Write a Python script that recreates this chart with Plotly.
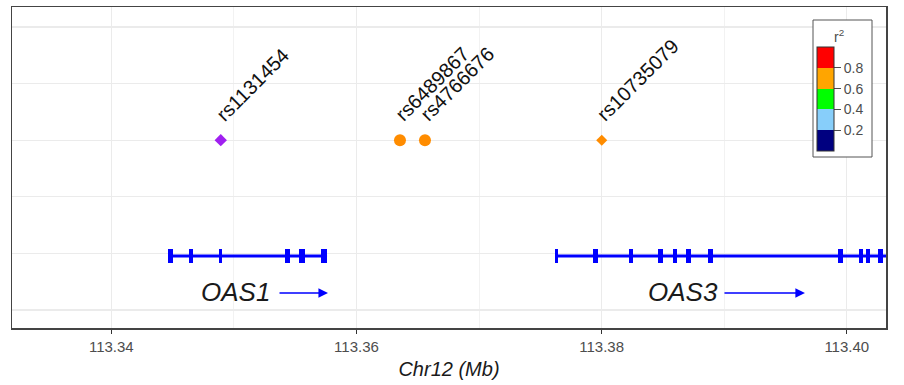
import plotly.graph_objects as go

# ---------------- data ----------------
snp_names = ["rs1131454", "rs6489867", "rs4766676", "rs10735079"]
snp_pos = [113.34893, 113.36355, 113.36559, 113.38001]   # Mb
snp_track = [3, 3, 3, 3]
snp_colors = ["#A020F0", "#FF8C00", "#FF8C00", "#FF8C00"]
snp_symbols = ["diamond", "circle", "circle", "diamond"]
snp_sizes = [9.5, 12, 12, 8.5]

gene_names = ["OAS1", "OAS3"]
gene_start = [113.34463, 113.3762]
gene_end = [113.3576, 113.4112]
gene_track = [0.954, 0.954]
gene_label_pos = [113.35017, 113.3866]
gene_arrow_start = [113.3536, 113.3899]
gene_arrow_end = [113.35768, 113.39659]

oas1_exon_start = [113.34463, 113.34634, 113.34879, 113.35417, 113.35532, 113.35711]
oas1_exon_end = [113.34504, 113.34667, 113.34903, 113.35458, 113.35581, 113.3576]
oas3_exon_start = [113.3762, 113.3793, 113.38224, 113.3846, 113.38583, 113.38689,
                   113.38868, 113.39929, 113.401, 113.40157, 113.40255]
oas3_exon_end = [113.37647, 113.37971, 113.38256, 113.38501, 113.38615, 113.3873,
                 113.38909, 113.3997, 113.40133, 113.4019, 113.40296]

r2_breaks = [0, 0.2, 0.4, 0.6, 0.8, 1.0]
r2_colors = ["#000080", "#87CEFA", "#00FF00", "#FFA500", "#FF0000"]
r2_ticks = [0.2, 0.4, 0.6, 0.8]

x_ticks = [113.34, 113.36, 113.38, 113.40]
x_ticktext = ["113.34", "113.36", "113.38", "113.40"]

FONT = "Liberation Sans, Arial, Helvetica, sans-serif"
GENE_BLUE = "#0000FF"

# plot-area geometry (pixels)
W, H = 904, 385
ML, MR, MT, MB = 12, 18, 7, 57
PW, PH = W - ML - MR, H - MT - MB


def px_to_paper_x(px):
    return (px - ML) / PW


def py_to_paper_y(py):
    return (H - MB - py) / PH


fig = go.Figure()

# gene backbone lines
for gs, ge, gy in zip(gene_start, gene_end, gene_track):
    fig.add_trace(go.Scatter(x=[gs, ge], y=[gy, gy], mode="lines",
                             line=dict(color=GENE_BLUE, width=3),
                             hoverinfo="skip", showlegend=False))

# exons as horizontal bars
for starts, ends, gy in [(oas1_exon_start, oas1_exon_end, gene_track[0]),
                         (oas3_exon_start, oas3_exon_end, gene_track[1])]:
    fig.add_trace(go.Bar(
        orientation="h",
        base=starts,
        x=[e - s for s, e in zip(starts, ends)],
        y=[gy] * len(starts),
        width=0.23,
        marker=dict(color=GENE_BLUE, line=dict(width=0)),
        showlegend=False, hoverinfo="skip"))

# SNP points
fig.add_trace(go.Scatter(
    x=snp_pos, y=snp_track, mode="markers",
    marker=dict(color=snp_colors, symbol=snp_symbols, size=snp_sizes,
                line=dict(width=0), opacity=1),
    showlegend=False, hoverinfo="skip"))

# colour key (r2) via a colorbar on an invisible trace
cs = []
for i, c in enumerate(r2_colors):
    cs.append([r2_breaks[i], c])
    cs.append([r2_breaks[i + 1], c])
fig.add_trace(go.Scatter(
    x=[None], y=[None], mode="markers",
    marker=dict(color=[0.5], colorscale=cs, cmin=0, cmax=1, showscale=True,
                colorbar=dict(
                    tickvals=r2_ticks, ticktext=[f"{t:.1f}" for t in r2_ticks],
                    ticks="outside", ticklen=7, tickwidth=1, tickcolor="#4d4d4d",
                    tickfont=dict(size=14, color="#4d4d4d", family=FONT),
                    thicknessmode="pixels", thickness=17,
                    lenmode="pixels", len=104,
                    xref="paper", x=px_to_paper_x(817), xanchor="left", xpad=0,
                    yref="paper", y=py_to_paper_y(151), yanchor="bottom", ypad=0,
                    outlinewidth=1, outlinecolor="#333333",
                    borderwidth=0, bgcolor="rgba(0,0,0,0)")),
    showlegend=False, hoverinfo="skip"))

annotations = []
# SNP labels rotated 45 degrees
for name, px, py in zip(snp_names, snp_pos, snp_track):
    annotations.append(dict(
        x=px, y=py, xref="x", yref="y", text=name, showarrow=False,
        textangle=-45, xanchor="left", yanchor="bottom",
        xshift=-12, yshift=12,
        font=dict(size=20, color="#111111", family=FONT)))

# gene names and direction arrows
for name, lx, a0, a1, gy in zip(gene_names, gene_label_pos, gene_arrow_start,
                                gene_arrow_end, gene_track):
    annotations.append(dict(
        x=lx, y=0.32, xref="x", yref="y", text=f"<i>{name}</i>",
        showarrow=False, xanchor="center", yanchor="middle",
        font=dict(size=26, color="#1a1a1a", family=FONT)))
    annotations.append(dict(
        x=a1, y=0.30, ax=a0, ay=0.30, xref="x", yref="y", axref="x", ayref="y",
        text="", showarrow=True, arrowhead=2, arrowsize=1.2, arrowwidth=1.6,
        arrowcolor=GENE_BLUE, standoff=0, startstandoff=0))

# legend title
annotations.append(dict(
    x=px_to_paper_x(839), y=py_to_paper_y(36), xref="paper", yref="paper",
    text="r<sup>2</sup>", showarrow=False, xanchor="center", yanchor="middle",
    font=dict(size=14, color="#4d4d4d", family=FONT)))

shapes = [dict(
    type="rect", xref="paper", yref="paper", layer="above",
    x0=px_to_paper_x(813), x1=px_to_paper_x(872),
    y0=py_to_paper_y(157), y1=py_to_paper_y(20),
    line=dict(color="#555555", width=1), fillcolor="white")]

fig.update_layout(
    width=W, height=H,
    margin=dict(l=ML, r=MR, t=MT, b=MB, autoexpand=False),
    paper_bgcolor="white", plot_bgcolor="white",
    barmode="overlay", bargap=0,
    font=dict(family=FONT),
    annotations=annotations,
    shapes=shapes,
    xaxis=dict(
        range=[113.3319, 113.4032],
        tickvals=x_ticks, ticktext=x_ticktext,
        tickfont=dict(size=15, color="#4d4d4d", family=FONT),
        ticks="outside", ticklen=4, tickcolor="#333333", tickwidth=1,
        showgrid=True, gridcolor="#EBEBEB", gridwidth=1.2,
        minor=dict(tickvals=[113.35, 113.37, 113.39], showgrid=True,
                   gridcolor="#EFEFEF", gridwidth=0.8, ticks=""),
        showline=True, linecolor="#444444", linewidth=1.5, mirror=True,
        zeroline=False,
        title=dict(text="<i>Chr12 (Mb)</i>", standoff=8,
                   font=dict(size=20, color="#1a1a1a", family=FONT)),
    ),
    yaxis=dict(
        range=[-0.318, 5.353],
        tickvals=[0, 1, 2, 3, 4, 5], showticklabels=False, ticks="",
        showgrid=True, gridcolor="#EBEBEB", gridwidth=1.2,
        showline=True, linecolor="#444444", linewidth=1.5, mirror=True,
        zeroline=False, fixedrange=True,
    ),
)

fig.write_html("out.html",
               config={"displayModeBar": False, "staticPlot": True},
               post_script="document.body.style.margin='0px';"
                           "document.body.style.overflow='hidden';")
